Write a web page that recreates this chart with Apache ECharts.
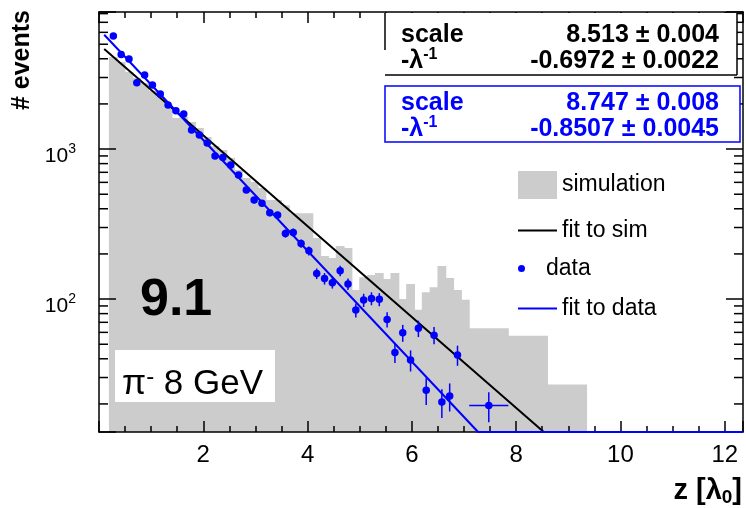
<!DOCTYPE html>
<html><head><meta charset="utf-8">
<script src="https://cdn.jsdelivr.net/npm/echarts@6/dist/echarts.min.js"></script>
<style>html,body{margin:0;padding:0;background:#fff}#c{width:746px;height:508px}</style>
</head><body><div id="c"></div>
<script>
// ---- axis ranges ----
const X_MIN = 0, X_MAX = 12.35, Y_MIN = 13, Y_MAX = 8200;
const yMinorTicks = [20,30,40,50,60,70,80,90,200,300,400,500,600,700,800,900,2000,3000,4000,5000,6000,7000,8000];

// ---- simulation histogram (bin edges in z, counts per bin) ----
const simEdges = [0.20,0.35,0.50,0.65,0.80,0.95,1.10,1.25,1.40,1.55,1.70,1.85,2.00,2.15,2.30,2.45,2.60,2.75,2.90,3.05,
  3.20,3.35,3.50,3.65,3.80,3.95,4.10,4.25,4.40,4.55,4.70,4.85,5.00,5.15,5.30,5.45,5.60,5.75,5.90,6.05,
  6.20,6.35,6.50,6.65,6.80,6.95,7.10,7.85,8.60,9.35];
const simCounts = [4106,3802,3262,2974,2754,2436,2222,1995,1610,1634,1514,1380,1202,1047,985,871,724,641,603,550,
  457,457,423,374,374,374,255,194,188,226,219,115,140,145,149,136,149,100,126,85,
  111,120,166,138,115,99,64,57,27];

// ---- data points ----
const dataZ = [0.275,0.425,0.575,0.725,0.875,1.025,1.175,1.325,1.475,1.625,1.775,1.925,2.075,2.225,2.375,2.525,2.675,2.825,2.975,3.125,
  3.275,3.425,3.575,3.725,3.875,4.025,4.175,4.325,4.475,4.625,4.775,4.925,5.075,5.225,5.375,5.525,5.675,5.825,5.975,6.125,
  6.275,6.425,6.575,6.725,6.875,7.475];
const dataCounts = [5666,4276,3981,2767,3113,2671,2326,1965,1799,1711,1339,1240,1096,898,880,782,671,533,457,435,
  376,363,274,278,235,210,148,137,128.5,154.5,126,84.5,98.5,101,99.6,73.2,44.1,59.6,39.2,63.8,
  24.7,57.5,20.6,22.6,42.4,19.5];
const dataErr = [75,65,63,53,56,52,48,44,42,41,37,35,33,30,30,28,26,23,21,21,
  19,19,17,17,15,14.5,12,12,11,12.5,11,9,10,10,10,8.5,6.6,7.7,6.3,8,
  5,7.6,4.5,4.8,6.5,4.4];
const dataZErr = [0,0,0,0,0,0,0,0,0,0,0,0,0,0,0,0,0,0,0,0,0,0,0,0,0,0,0,0,0,0,0,0,0,0,0,0,0,0,0,0,0,0,0,0,0,0.375];

// ---- fit lines (straight on the log scale, clipped at the floor) ----
const fitSimZ = [0.1, 8.53, 12.35];
const fitSimN = [4640, 13, 13];
const fitDataZ = [0.1, 7.27, 12.35];
const fitDataN = [5780, 13, 13];

const FONT = 'Liberation Sans, Arial, Helvetica, sans-serif';
const BLUE = '#0000ff';

const histData = simCounts.map((c, i) => [simEdges[i], simEdges[i + 1], c]);
const errData = dataZ.map((z, i) => [z, dataCounts[i], dataCounts[i] - dataErr[i], dataCounts[i] + dataErr[i], z - dataZErr[i], z + dataZErr[i]]);
const ptData = dataZ.map((z, i) => [z, dataCounts[i]]);

function logLabel(v) {
  const e = Math.round(Math.log10(v));
  if (Math.abs(v - Math.pow(10, e)) < 1e-6 * v) return '{b|10}{s|' + e + '}';
  return '';
}

const chart = echarts.init(document.getElementById('c'), null, {renderer: 'canvas'});
const xCommon = {
  type: 'value', min: X_MIN, max: X_MAX, interval: 2, z: 5,
  axisLine: {show: true, onZero: false, lineStyle: {color: '#000', width: 1.5}},
  axisTick: {show: true, inside: true, length: 11, lineStyle: {color: '#000', width: 1.5}},
  minorTick: {show: true, splitNumber: 4, length: 6, lineStyle: {color: '#000', width: 1.5}},
  splitLine: {show: false}
};
const yCommon = {
  type: 'log', logBase: 10, min: Y_MIN, max: Y_MAX, z: 5,
  axisLine: {show: true, onZero: false, lineStyle: {color: '#000', width: 1.5}},
  axisTick: {show: true, inside: true, length: 17, lineStyle: {color: '#000', width: 1.5}},
  splitLine: {show: false}
};
const legendText = {fontFamily: FONT, fontSize: 23, color: '#000'};

chart.setOption({
  animation: false,
  backgroundColor: '#fff',
  grid: {left: 99, right: 1, top: 12, bottom: 76, containLabel: false},
  xAxis: [
    Object.assign({}, xCommon, {
      position: 'bottom',
      name: '{b|z [λ}{sub|0}{b|]}', nameLocation: 'end', nameGap: -1,
      nameTextStyle: {align: 'right', verticalAlign: 'top', padding: [42, 0, 0, 0],
        rich: {b: {fontFamily: FONT, fontSize: 29, fontWeight: 'bold', color: '#000'},
               sub: {fontFamily: FONT, fontSize: 19, fontWeight: 'bold', color: '#000', padding: [14, 0, 0, 0]}}},
      axisLabel: {show: true, margin: 11, fontFamily: FONT, fontSize: 24, color: '#000',
        formatter: v => (v > 0 && Math.abs(v / 2 - Math.round(v / 2)) < 1e-6) ? String(v) : ''}
    }),
    Object.assign({}, xCommon, {position: 'top', axisLabel: {show: false}})
  ],
  yAxis: [
    Object.assign({}, yCommon, {
      position: 'left',
      name: '# events', nameLocation: 'end', nameGap: 2, nameRotate: 90,
      nameTextStyle: {fontFamily: FONT, fontSize: 25, fontWeight: 'bold', color: '#000', align: 'right', verticalAlign: 'bottom', padding: [0, 0, 64, 0]},
      axisLabel: {show: true, margin: 23, formatter: logLabel,
        rich: {b: {fontFamily: FONT, fontSize: 21, color: '#000', padding: [14, 0, 0, 0]},
               s: {fontFamily: FONT, fontSize: 14, color: '#000', verticalAlign: 'bottom', padding: [0, 0, 10, 0]}}}
    }),
    Object.assign({}, yCommon, {position: 'right', axisLabel: {show: false}})
  ],
  legend: [
    {data: [{name: 'simulation', icon: 'rect'}], left: 518, top: 171, orient: 'vertical', itemWidth: 39, itemHeight: 28, padding: 0, selectedMode: false, textStyle: legendText},
    {data: [{name: 'fit to sim', icon: 'rect'}], left: 518, top: 219, orient: 'vertical', itemWidth: 39, itemHeight: 2, padding: 0, selectedMode: false, textStyle: legendText},
    {data: [{name: 'data', icon: 'circle'}], left: 518, top: 257, orient: 'vertical', itemWidth: 39, itemHeight: 7, padding: 0, selectedMode: false, textStyle: legendText},
    {data: [{name: 'fit to data', icon: 'rect'}], left: 518, top: 297, orient: 'vertical', itemWidth: 39, itemHeight: 2, padding: 0, selectedMode: false, textStyle: legendText}
  ],
  series: [
    {
      name: 'simulation', type: 'custom', z: 1, clip: true,
      itemStyle: {color: '#cccccc'},
      encode: {x: [0, 1], y: 2},
      data: histData,
      renderItem: (params, api) => {
        const p0 = api.coord([api.value(0), api.value(2)]);
        const p1 = api.coord([api.value(1), Y_MIN]);
        return {type: 'rect', shape: {x: p0[0] - 0.5, y: p0[1], width: p1[0] - p0[0] + 1, height: p1[1] - p0[1]},
          style: {fill: '#cccccc'}};
      }
    },
    {
      name: 'fit to sim', type: 'line', z: 3, symbol: 'none', showSymbol: false,
      lineStyle: {color: '#000', width: 2}, itemStyle: {color: '#000'},
      data: fitSimZ.map((z, i) => [z, fitSimN[i]])
    },
    {
      name: 'data errors', type: 'custom', z: 4, clip: true,
      encode: {x: 0, y: 1},
      data: errData,
      renderItem: (params, api) => {
        const c = api.coord([api.value(0), api.value(1)]);
        const lo = api.coord([api.value(0), api.value(2)]);
        const hi = api.coord([api.value(0), api.value(3)]);
        const l = api.coord([api.value(4), api.value(1)]);
        const r = api.coord([api.value(5), api.value(1)]);
        const ch = [{type: 'line', shape: {x1: lo[0], y1: lo[1], x2: hi[0], y2: hi[1]}, style: {stroke: BLUE, lineWidth: 1.5}}];
        if (r[0] - l[0] > 1) ch.push({type: 'line', shape: {x1: l[0], y1: c[1], x2: r[0], y2: c[1]}, style: {stroke: BLUE, lineWidth: 1.5}});
        return {type: 'group', children: ch};
      }
    },
    {
      name: 'data', type: 'scatter', z: 6, symbol: 'circle', symbolSize: 7.5,
      itemStyle: {color: BLUE, opacity: 1},
      data: ptData
    },
    {
      name: 'fit to data', type: 'line', z: 7, symbol: 'none', showSymbol: false,
      lineStyle: {color: BLUE, width: 2}, itemStyle: {color: BLUE},
      data: fitDataZ.map((z, i) => [z, fitDataN[i]])
    },
    {
      name: 'minor ticks', type: 'custom', z: 8, silent: true, clip: false,
      encode: {x: 0, y: 1},
      data: yMinorTicks.map(v => [X_MIN, v]),
      renderItem: (params, api) => {
        const v = api.value(1);
        const a = api.coord([X_MIN, v]);
        const b = api.coord([X_MAX, v]);
        return {type: 'group', children: [
          {type: 'line', shape: {x1: a[0], y1: a[1], x2: a[0] + 9, y2: a[1]}, style: {stroke: '#000', lineWidth: 1.5}},
          {type: 'line', shape: {x1: b[0] - 9, y1: b[1], x2: b[0], y2: b[1]}, style: {stroke: '#000', lineWidth: 1.5}}
        ]};
      }
    }
  ],
  graphic: [
    // stats box for the simulation fit
    {type: 'rect', z: 20, shape: {x: 385, y: 13, width: 352, height: 62}, style: {fill: '#fff'}},
    {type: 'line', z: 21, shape: {x1: 385, y1: 13, x2: 385, y2: 50}, style: {stroke: '#000', lineWidth: 1.5}},
    {type: 'line', z: 21, shape: {x1: 385, y1: 75, x2: 737, y2: 75}, style: {stroke: '#000', lineWidth: 1.5}},
    {type: 'line', z: 21, shape: {x1: 737, y1: 13, x2: 737, y2: 75}, style: {stroke: '#000', lineWidth: 1.5}},
    {type: 'text', z: 22, x: 401, y: 35, style: {text: 'scale', font: 'bold 25px ' + FONT, fill: '#000', verticalAlign: 'middle'}},
    {type: 'text', z: 22, x: 719, y: 35, style: {text: '8.513 ± 0.004', font: 'bold 25px ' + FONT, fill: '#000', align: 'right', verticalAlign: 'middle'}},
    {type: 'text', z: 22, x: 401, y: 61, style: {text: '{b|-λ}{s|-1}', verticalAlign: 'middle',
      rich: {b: {font: 'bold 25px ' + FONT, fill: '#000'}, s: {font: 'bold 16px ' + FONT, fill: '#000', verticalAlign: 'top', padding: [0, 0, 12, 0]}}}},
    {type: 'text', z: 22, x: 719, y: 61, style: {text: '-0.6972 ± 0.0022', font: 'bold 25px ' + FONT, fill: '#000', align: 'right', verticalAlign: 'middle'}},
    // stats box for the data fit
    {type: 'rect', z: 20, shape: {x: 385, y: 86, width: 355, height: 56}, style: {fill: '#fff', stroke: BLUE, lineWidth: 1.5}},
    {type: 'text', z: 22, x: 401, y: 103, style: {text: 'scale', font: 'bold 25px ' + FONT, fill: BLUE, verticalAlign: 'middle'}},
    {type: 'text', z: 22, x: 719, y: 103, style: {text: '8.747 ± 0.008', font: 'bold 25px ' + FONT, fill: BLUE, align: 'right', verticalAlign: 'middle'}},
    {type: 'text', z: 22, x: 401, y: 129, style: {text: '{b|-λ}{s|-1}', verticalAlign: 'middle',
      rich: {b: {font: 'bold 25px ' + FONT, fill: BLUE}, s: {font: 'bold 16px ' + FONT, fill: BLUE, verticalAlign: 'top', padding: [0, 0, 12, 0]}}}},
    {type: 'text', z: 22, x: 719, y: 129, style: {text: '-0.8507 ± 0.0045', font: 'bold 25px ' + FONT, fill: BLUE, align: 'right', verticalAlign: 'middle'}},
    // labels
    {type: 'text', z: 22, x: 140, y: 301, style: {text: '9.1', font: 'bold 52px ' + FONT, fill: '#000', verticalAlign: 'middle'}},
    {type: 'rect', z: 20, shape: {x: 115, y: 350, width: 160, height: 52}, style: {fill: '#fff'}},
    {type: 'text', z: 22, x: 122, y: 384, style: {text: '{a|π}{s|-}{a| 8 GeV}', verticalAlign: 'middle',
      rich: {a: {font: '35px ' + FONT, fill: '#000'}, s: {font: '24px ' + FONT, fill: '#000', verticalAlign: 'top', padding: [0, 0, 14, 0]}}}}
  ]
});
</script></body></html>
